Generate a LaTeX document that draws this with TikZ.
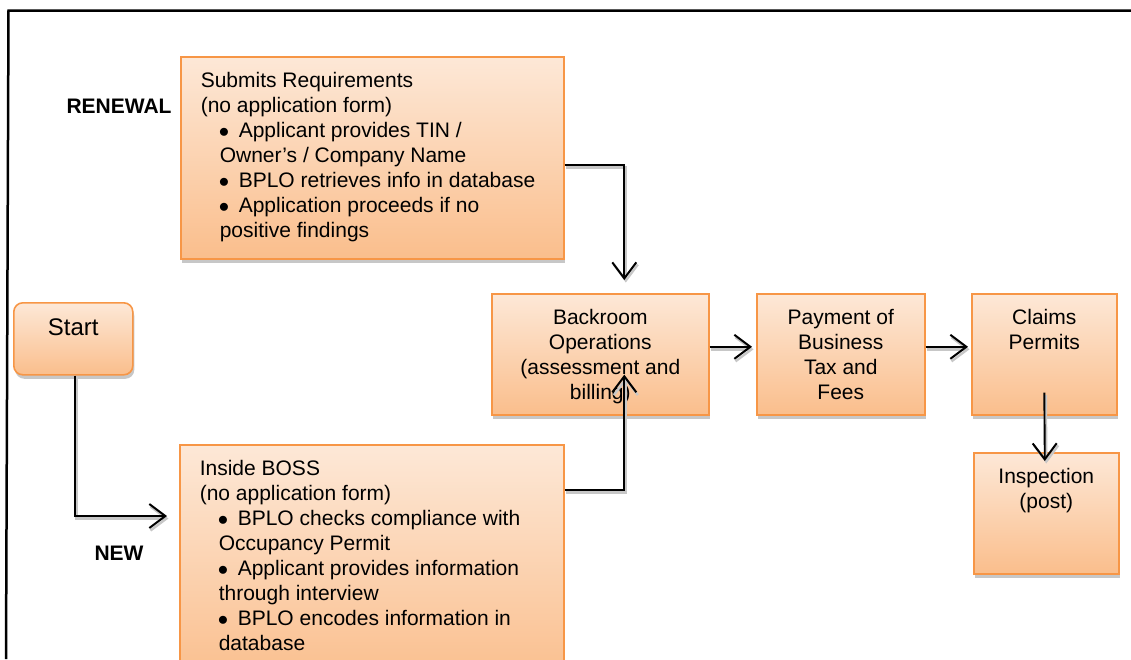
\documentclass[tikz,border=0pt]{standalone}
\usepackage{fontspec}
\setmainfont{Liberation Sans}
\usetikzlibrary{arrows.meta,shadows}

\definecolor{boxtop}{RGB}{253,232,215}
\definecolor{boxbot}{RGB}{250,190,140}
\definecolor{boxline}{RGB}{247,150,70}

% text blocks of fixed size, set from the top of the box
\newcommand{\leftblock}[3]{\parbox[c][#2][t]{#1}{\vspace*{13pt}\raggedright\leftskip=20pt\strut #3}}
\newcommand{\midblock}[3]{\parbox[c][#2][t]{#1}{\vspace*{13pt}\centering\strut #3}}
\newcommand{\pt}{\hspace*{19pt}}
\newcommand{\bul}{\hspace*{18pt}\makebox[20pt][l]{$\bullet$}}

\tikzset{
  stage/.style={draw=boxline, line width=1.6pt, top color=boxtop, bottom color=boxbot,
    inner sep=0pt, anchor=north west, font=\fontsize{21}{25}\selectfont,
    drop shadow={shadow xshift=1.5pt, shadow yshift=-4pt, fill=black, opacity=.22}},
  tag/.style={font=\bfseries\fontsize{21}{25}\selectfont, inner sep=0pt},
  flow/.style={line width=1.9pt, -{Straight Barb[length=16pt,width=24pt,line width=2pt]},
    preaction={draw=black!22, line width=2.4pt,
      -{Straight Barb[length=16pt,width=24pt,line width=2.4pt]},
      transform canvas={shift={(1.5pt,-2.5pt)}}}},
}

\begin{document}
\begin{tikzpicture}[x=1pt,y=-1pt]
\useasboundingbox (0,0) rectangle (1131,659);
\clip (0,0) rectangle (1131,659);

% page frame
\draw[line width=2.5pt] (1131,10.5) -- (8.5,10.5) -- (6,659);

% process boxes
\node[stage] (ren) at (180,56) {\leftblock{383pt}{202pt}{Submits Requirements\\
(no application form)\\
\bul Applicant provides TIN /\\
\pt Owner’s / Company Name\\
\bul BPLO retrieves info in database\\
\bul Application proceeds if no\\
\pt positive findings}};

\node[stage] (boss) at (179,444) {\leftblock{384pt}{240pt}{Inside BOSS\\
(no application form)\\
\bul BPLO checks compliance with\\
\pt Occupancy Permit\\
\bul Applicant provides information\\
\pt through interview\\
\bul BPLO encodes information in\\
\pt database}};

\node[stage, rounded corners=9pt, font=\fontsize{24}{28}\selectfont] (start) at (13,302)
  {\parbox[c][72pt][t]{119pt}{\vspace*{13pt}\centering\strut Start}};

\node[stage] (back) at (491,293) {\midblock{217pt}{121pt}{Backroom\\Operations\\(assessment and\\billing)}};
\node[stage] (pay) at (756,293) {\midblock{168pt}{121pt}{Payment of\\Business\\Tax and\\Fees}};
\node[stage] (claim) at (971,293) {\midblock{145pt}{121pt}{Claims\\Permits}};
\node[stage] (insp) at (973,452) {\midblock{145pt}{121pt}{Inspection\\(post)}};

% side labels
\node[tag] (renlab) at (119,106) {RENEWAL};
\node[tag] (newlab) at (119,553) {NEW};

% connectors
\draw[flow] ([yshift=-7pt]ren.east) -| ([xshift=24pt,yshift=13pt]back.north);
\draw[flow] ([yshift=-46pt]boss.north east) -| ([xshift=24pt,yshift=41pt]back.south);
\draw[flow] ([xshift=1.5pt]start.south) |- ([xshift=-12pt,yshift=-72pt]boss.north west);
\draw[flow] ([yshift=7.5pt]back.east) -- ([xshift=-4pt,yshift=7.5pt]pay.west);
\draw[flow] ([yshift=7.5pt]pay.east) -- ([xshift=-3pt,yshift=7.5pt]claim.west);
\draw[flow] ([yshift=23pt]claim.south) -- ([xshift=-1.5pt,yshift=-9pt]insp.north);
\end{tikzpicture}
\end{document}
